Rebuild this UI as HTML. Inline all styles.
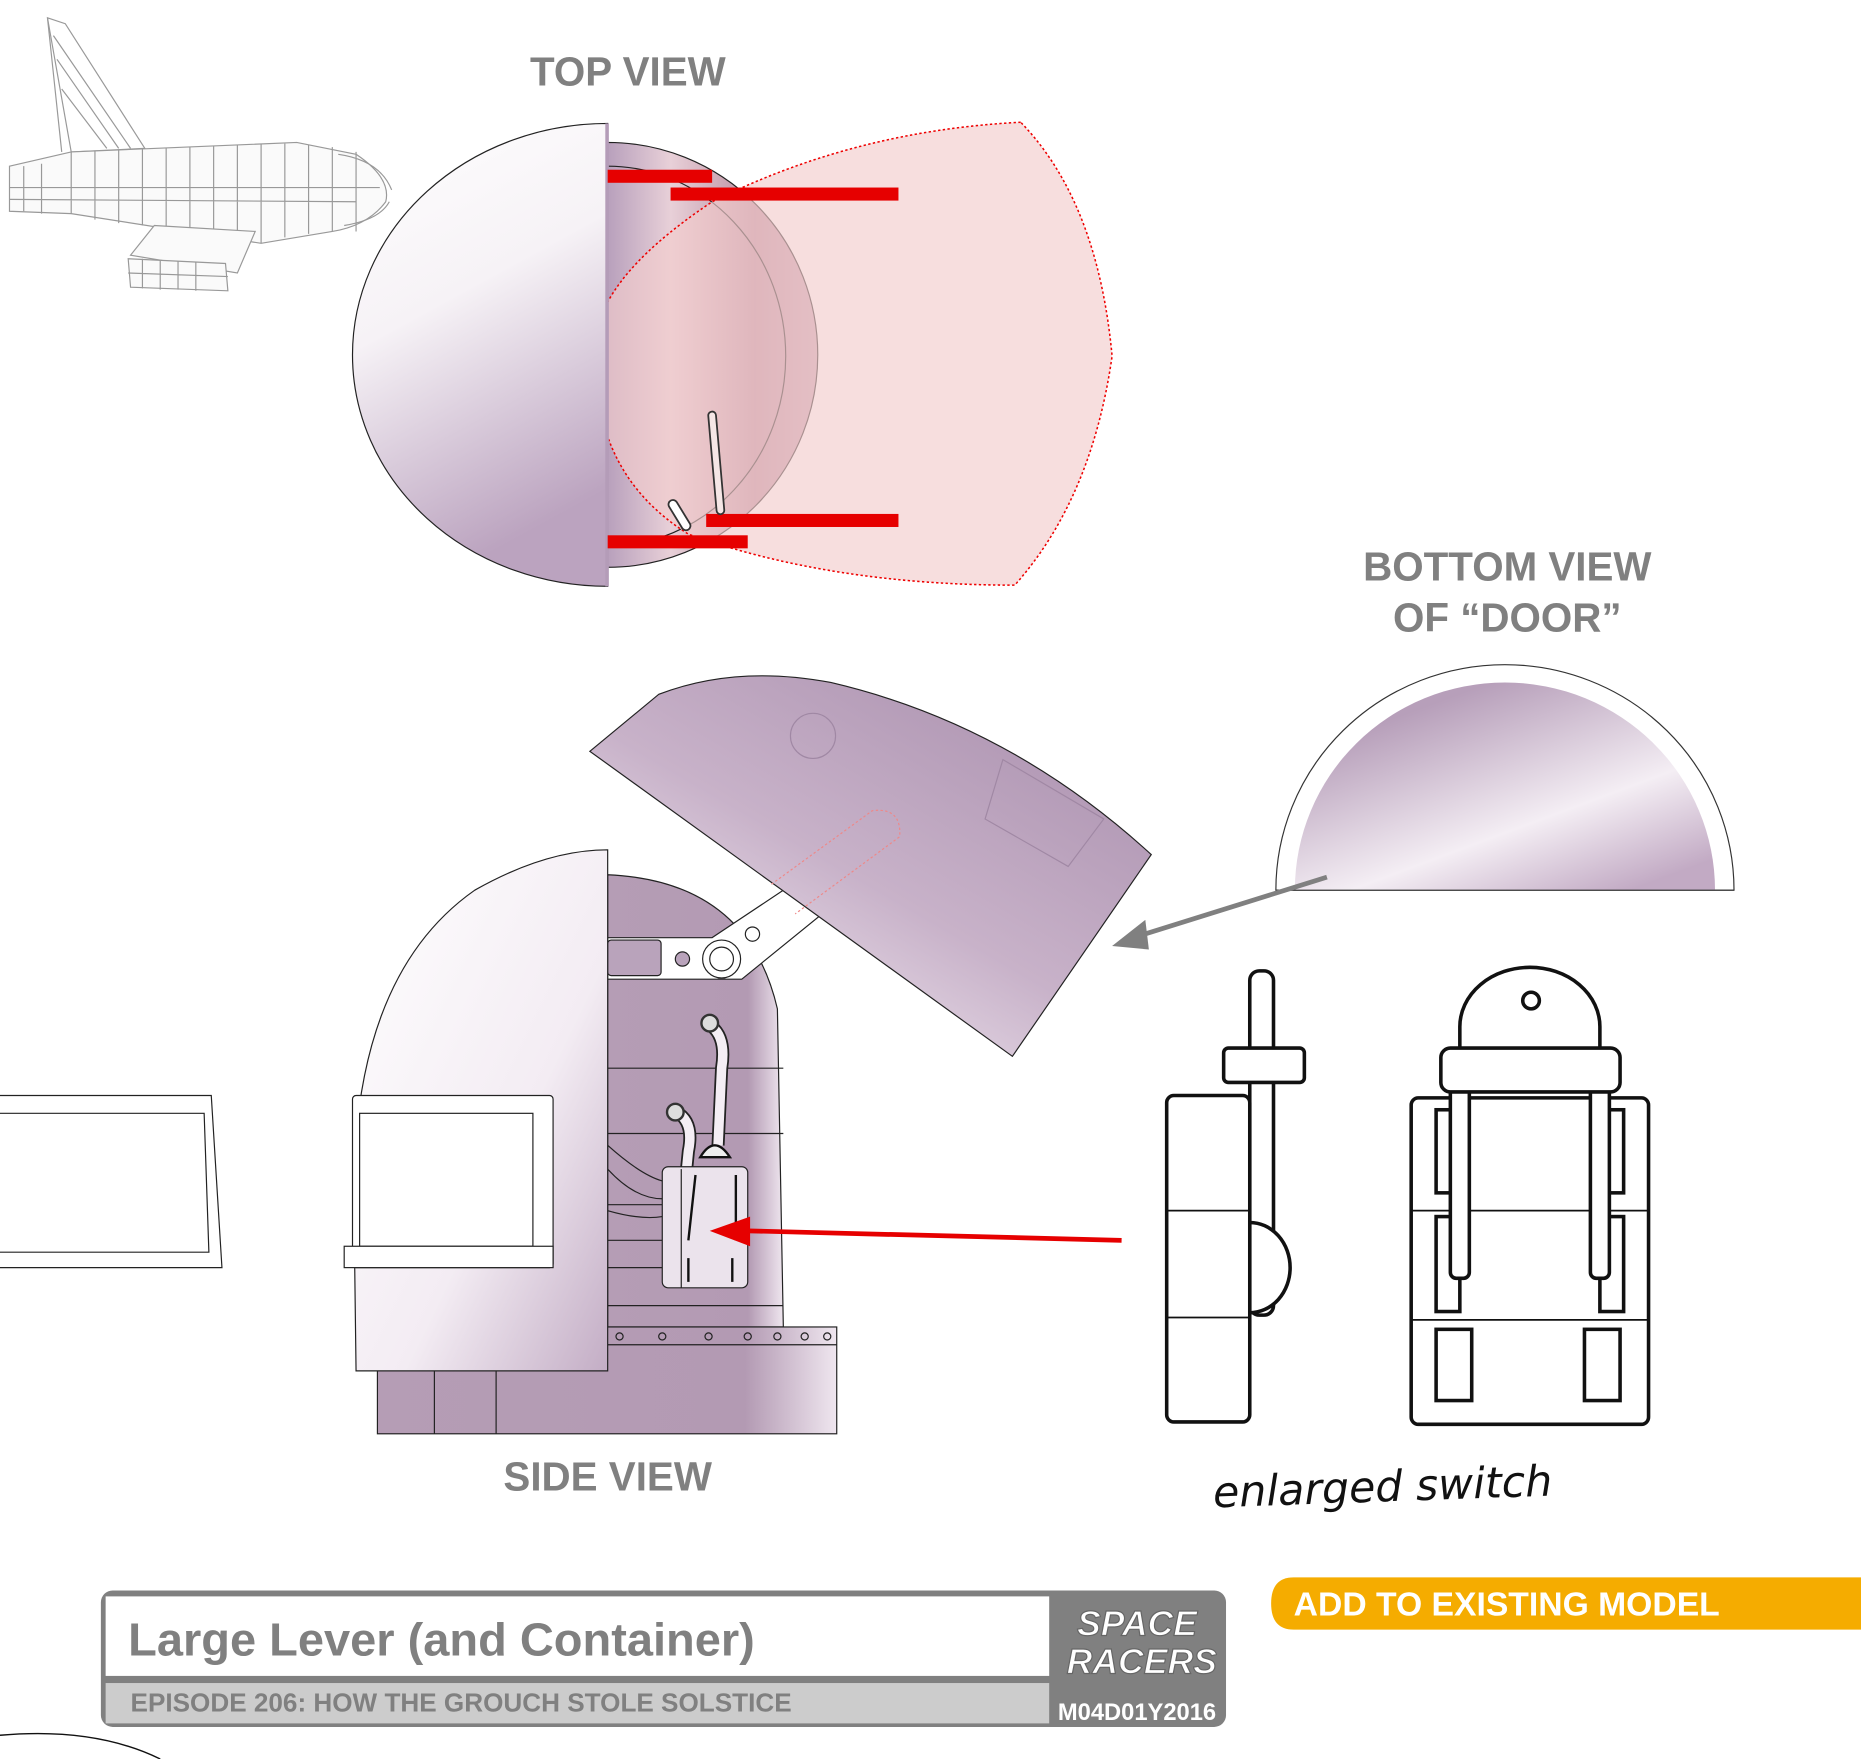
<!DOCTYPE html>
<html><head><meta charset="utf-8"><style>
html,body{margin:0;padding:0;background:#fff;}
svg{display:block;}
</style></head><body>
<svg width="1861" height="1759" viewBox="0 0 1568 1482" preserveAspectRatio="none" xmlns="http://www.w3.org/2000/svg" font-family="Liberation Sans, sans-serif">
<defs>
<linearGradient id="lav" x1="0" y1="0" x2="0.3" y2="1"><stop offset="0" stop-color="#fff"/><stop offset="0.45" stop-color="#f6f2f6"/><stop offset="1" stop-color="#bba3bf"/></linearGradient>
<linearGradient id="mauve" x1="0" y1="0" x2="1" y2="0"><stop offset="0" stop-color="#b8a0bc"/><stop offset="0.3" stop-color="#e8d0d8"/><stop offset="0.7" stop-color="#bb8ea0"/><stop offset="1" stop-color="#c9a6b6"/></linearGradient>
<linearGradient id="door" x1="0.2" y1="0.9" x2="0.8" y2="0.2"><stop offset="0" stop-color="#f1e9f1"/><stop offset="0.5" stop-color="#c8b2c9"/><stop offset="1" stop-color="#b39ab6"/></linearGradient>
<linearGradient id="body" x1="0" y1="0" x2="1" y2="0"><stop offset="0" stop-color="#b59db5"/><stop offset="0.8" stop-color="#b39ab3"/><stop offset="1" stop-color="#efe6ef"/></linearGradient>
<linearGradient id="dome" x1="0" y1="0" x2="1" y2="1"><stop offset="0" stop-color="#fff"/><stop offset="0.6" stop-color="#f3ecf3"/><stop offset="1" stop-color="#c3adc5"/></linearGradient>
<linearGradient id="bv" x1="0.2" y1="0.2" x2="0.8" y2="1"><stop offset="0" stop-color="#b79fba"/><stop offset="0.6" stop-color="#f4eef4"/><stop offset="1" stop-color="#c2aac4"/></linearGradient>
</defs>

<g stroke="#999" fill="none" stroke-width="1">
<path d="M40,15 L55,20 L122,125 L60,128 Z"/>
<path d="M45,30 L110,125 M48,50 L100,125 M52,75 L90,125 M40,15 L52,128"/>
<path d="M8,140 L60,128 L250,120 L300,130 Q330,150 325,170 Q310,190 280,195 L220,205 L60,180 L8,178 Z" fill="#fafafa"/>
<path d="M8,158 L320,158 M8,168 L300,170 M20,140 L20,178 M35,138 L35,180 M60,128 L60,180 M80,127 L80,185 M100,126 L100,188 M120,125 L120,190 M140,125 L140,192 M160,124 L160,194 M180,123 L180,197 M200,122 L200,200 M220,121 L220,205 M240,121 L240,200 M260,122 L260,197 M280,124 L280,195"/>
<path d="M130,190 L215,195 L200,230 L110,215 Z" fill="#fafafa"/>
<path d="M108,218 L190,222 L192,245 L110,242 Z" fill="#fafafa"/>
<path d="M120,218 L120,243 M135,219 L135,244 M150,220 L150,244 M165,221 L165,245 M108,230 L192,233"/>
<path d="M285,130 Q320,135 330,160 M290,190 Q320,185 328,170 M300,128 L300,195"/>
</g>

<text x="529" y="72" text-anchor="middle" font-size="34" font-weight="bold" fill="#808080">TOP VIEW</text>

<path d="M512,120 A177,179 0 0 1 512,478 Z" fill="url(#mauve)" stroke="#222" stroke-width="1"/>
<path d="M512,140 A150,160 0 0 1 512,460" fill="none" stroke="#222" stroke-width="1"/>
<path d="M860,103 Q720,110 600,170 Q495,240 502,300 Q500,400 580,450 Q700,493 855,493 Q920,420 937,300 Q925,170 860,103 Z" fill="#f2cccc" fill-opacity="0.65" stroke="#e00" stroke-width="1.3" stroke-dasharray="2,2"/>
<path d="M512,104 A215,195 0 0 0 512,494 Z" fill="url(#lav)" stroke="#222" stroke-width="1"/>
<rect x="510" y="104" width="3" height="390" fill="#b49cb8"/>
<g fill="#e60000">
<rect x="512" y="143" width="88" height="11"/>
<rect x="565" y="158" width="192" height="11"/>
<rect x="595" y="433" width="162" height="11"/>
<rect x="512" y="451" width="118" height="11"/>
</g>
<path d="M600,350 L607,430" stroke="#333" stroke-width="8" stroke-linecap="round"/>
<path d="M600,350 L607,430" stroke="#f5e6e6" stroke-width="5" stroke-linecap="round"/>
<path d="M567,425 L578,443" stroke="#333" stroke-width="9" stroke-linecap="round"/>
<path d="M567,425 L578,443" stroke="#fff" stroke-width="6" stroke-linecap="round"/>

<text x="1270" y="489" text-anchor="middle" font-size="34" font-weight="bold" fill="#808080">BOTTOM VIEW</text>
<text x="1270" y="532" text-anchor="middle" font-size="34" font-weight="bold" fill="#808080">OF “DOOR”</text>

<path d="M1075,750 A193,190 0 0 1 1461,750 Z" fill="#fff" stroke="#333" stroke-width="1"/>
<path d="M1091,750 A176,174 0 0 1 1445,750 Z" fill="url(#bv)"/>
<path d="M1075,750 L1461,750" stroke="#333" stroke-width="1"/>
<path d="M1118,739 L955,790" stroke="#808080" stroke-width="4"/>
<path d="M937,797 L965,775 L968,800 Z" fill="#808080"/>

<path d="M512,737 Q630,742 655,850 L660,1118 L512,1118 Z" fill="url(#body)" stroke="#222" stroke-width="1"/>
<g stroke="#222" stroke-width="1" fill="none">
<path d="M512,900 L660,900 M512,955 L660,955 M512,1015 L558,1015 M512,1045 L558,1045 M512,1068 L558,1068 M512,1100 L660,1100"/>
</g>
<path d="M512,790 L600,790 L690,730 L705,760 L625,825 L512,825 Z" fill="#fff" stroke="#222" stroke-width="1"/>
<rect x="512" y="792" width="45" height="30" rx="3" fill="#b9a3bb" stroke="#222"/>
<circle cx="575" cy="808" r="6" fill="#b9a3bb" stroke="#222"/>
<circle cx="608" cy="808" r="16" fill="#fff" stroke="#222"/>
<circle cx="608" cy="808" r="10" fill="#fff" stroke="#222"/>
<circle cx="634" cy="787" r="6" fill="#fff" stroke="#222"/>
<path d="M497,633 L555,585 Q620,560 700,575 Q850,610 970,720 L853,890 Z" fill="url(#door)" stroke="#222" stroke-width="1"/>
<circle cx="685" cy="620" r="19" fill="none" stroke="#a088a4" stroke-width="1"/>
<path d="M845,640 L930,690 L900,730 L830,690 Z" fill="none" stroke="#a088a4"/>
<path d="M650,745 L735,683 Q760,680 758,705 L670,770" fill="none" stroke="#e88" stroke-dasharray="2,2"/>
<path d="M600,865 Q612,875 608,900 L605,965" stroke="#222" stroke-width="11" fill="none"/>
<path d="M600,865 Q612,875 608,900 L605,965" stroke="#f4eef4" stroke-width="8" fill="none"/>
<circle cx="598" cy="862" r="7" fill="#ddd" stroke="#333" stroke-width="2"/>
<path d="M570,937 Q585,945 580,970 L578,990" stroke="#222" stroke-width="11" fill="none"/>
<path d="M570,937 Q585,945 580,970 L578,990" stroke="#f4eef4" stroke-width="8" fill="none"/>
<circle cx="569" cy="937" r="7" fill="#ddd" stroke="#333" stroke-width="2"/>
<path d="M590,975 Q602,955 615,975 Z" fill="#eee" stroke="#111" stroke-width="2"/>
<rect x="558" y="983" width="72" height="102" rx="5" fill="#ebe3ec" stroke="#222"/>
<path d="M574,985 L574,1085" stroke="#222"/>
<path d="M586,990 L580,1045 M620,990 L620,1045 M580,1060 L580,1080 M617,1060 L617,1080" stroke="#111" stroke-width="2"/>
<path d="M512,965 Q540,990 558,995 M512,985 Q535,1010 558,1010 M512,1020 Q540,1028 558,1025" stroke="#222" fill="none"/>
<rect x="318" y="1118" width="387" height="90" fill="url(#body)" stroke="#222"/>
<path d="M318,1133 L705,1133 M366,1155 L366,1208 M418,1155 L418,1208" stroke="#222"/>
<g fill="none" stroke="#222"><circle cx="522" cy="1126" r="3"/><circle cx="558" cy="1126" r="3"/><circle cx="597" cy="1126" r="3"/><circle cx="630" cy="1126" r="3"/><circle cx="655" cy="1126" r="3"/><circle cx="678" cy="1126" r="3"/><circle cx="697" cy="1126" r="3"/></g>
<path d="M512,716 L512,1155 L300,1155 L298,1000 Q300,820 400,750 Q460,716 512,716 Z" fill="url(#dome)" stroke="#222"/>
<rect x="297" y="923" width="169" height="145" rx="3" fill="#fff" stroke="#222"/>
<rect x="303" y="938" width="146" height="112" fill="#fff" stroke="#222"/>
<rect x="290" y="1050" width="176" height="18" fill="#fff" stroke="#222"/>
<path d="M0,923 L178,923 L187,1068 L0,1068" fill="#fff" stroke="#222"/>
<path d="M0,938 L172,938 L176,1055 L0,1055" fill="none" stroke="#222"/>
<path d="M945,1045 L630,1037" stroke="#e60000" stroke-width="4"/>
<path d="M598,1037 L632,1025 L632,1050 Z" fill="#e60000"/>

<text x="512" y="1256" text-anchor="middle" font-size="34" font-weight="bold" fill="#808080">SIDE VIEW</text>

<g stroke="#111" stroke-width="3" fill="#fff">
<rect x="1053" y="818" width="20" height="290" rx="8"/>
<rect x="1031" y="883" width="68" height="29" rx="4"/>
<path d="M1053,1030 A34,38 0 0 1 1053,1106 Z"/>
<rect x="983" y="923" width="70" height="275" rx="6"/>
<path d="M983,1020 L1053,1020 M983,1110 L1053,1110" stroke-width="1.5"/>
</g>
<g stroke="#111" stroke-width="3" fill="#fff">
<path d="M1230,888 L1230,865 A59,50 0 0 1 1348,865 L1348,888 Z"/>
<circle cx="1290" cy="843" r="7"/>
<rect x="1189" y="925" width="200" height="275" rx="6"/>
<path d="M1189,1020 L1389,1020 M1189,1112 L1389,1112" stroke-width="1.5"/>
<rect x="1210" y="935" width="20" height="70"/><rect x="1348" y="935" width="20" height="70"/>
<rect x="1210" y="1025" width="20" height="80"/><rect x="1348" y="1025" width="20" height="80"/>
<rect x="1210" y="1120" width="30" height="60"/><rect x="1335" y="1120" width="30" height="60"/>
<rect x="1222" y="905" width="16" height="172" rx="5"/>
<rect x="1340" y="905" width="16" height="172" rx="5"/>
<rect x="1214" y="883" width="151" height="37" rx="8"/>
</g>
<text x="1165" y="1265" text-anchor="middle" font-size="36" font-style="italic" font-family="DejaVu Sans, sans-serif" fill="#111" transform="rotate(-2 1165 1255)">enlarged switch</text>

<rect x="85" y="1340" width="948" height="115" rx="10" fill="#808080"/>
<rect x="89" y="1345" width="795" height="67" fill="#fff"/>
<rect x="89" y="1418" width="795" height="34" fill="#cccccc"/>
<text x="108" y="1395" font-size="39" font-weight="bold" fill="#808080" textLength="528" lengthAdjust="spacingAndGlyphs">Large Lever (and Container)</text>
<text x="110" y="1442" font-size="22" font-weight="bold" fill="#808080" textLength="557" lengthAdjust="spacingAndGlyphs">EPISODE 206: HOW THE GROUCH STOLE SOLSTICE</text>
<text x="958" y="1378" text-anchor="middle" font-size="30" font-weight="bold" font-style="italic" fill="#fff" stroke="#666" stroke-width="1">SPACE</text>
<text x="962" y="1410" text-anchor="middle" font-size="30" font-weight="bold" font-style="italic" fill="#fff" stroke="#666" stroke-width="1">RACERS</text>
<text x="958" y="1449" text-anchor="middle" font-size="20" font-weight="bold" fill="#fff">M04D01Y2016</text>
<path d="M1090,1329 L1568,1329 L1568,1373 L1090,1373 Q1071,1373 1071,1351 Q1071,1329 1090,1329 Z" fill="#f5ac00"/>
<text x="1090" y="1361" font-size="28" font-weight="bold" fill="#fff" textLength="359" lengthAdjust="spacingAndGlyphs">ADD TO EXISTING MODEL</text>
<path d="M0,1462 Q80,1455 135,1482" fill="none" stroke="#111" stroke-width="1.2"/>
</svg>
</body></html>
